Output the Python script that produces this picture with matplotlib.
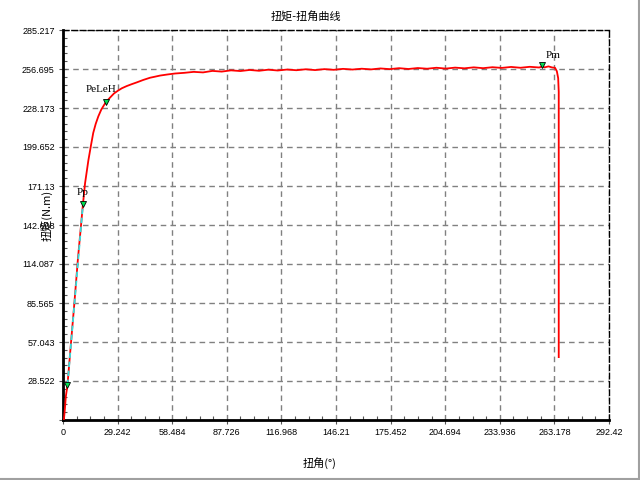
import matplotlib.pyplot as plt
from matplotlib.ticker import AutoMinorLocator

# torque-angle curve
angle = [0.5, 1.0, 1.5, 2.4, 4.0, 6.0, 8.0, 10.7, 11.8, 13.6, 15.0, 16.2, 17.5, 18.9,
         20.5, 22.8, 25.2, 27.3, 29.5, 31.5, 34.1, 36.8, 39.5, 43.0, 46.6, 49.0, 52.0,
         56.0, 60.0, 65.0, 70.0, 75.0, 80.0, 85.0, 90.0, 95.0, 100.0, 105.0, 110.0,
         115.0, 120.0, 125.0, 130.0, 135.0, 140.0, 145.0, 150.0, 155.0, 160.0, 165.0,
         170.0, 175.0, 180.0, 185.0, 190.0, 195.0, 200.0, 205.0, 210.0, 215.0, 220.0,
         225.0, 230.0, 235.0, 240.0, 245.0, 250.0, 255.0, 256.6, 258.0, 260.0, 262.0,
         263.5, 264.5, 265.2, 265.5, 265.5]
torque = [0.5, 8.0, 17.0, 25.6, 52.0, 84.0, 118.0, 158.0, 173.0, 190.0, 201.0, 210.0,
          216.5, 222.0, 227.0, 232.2, 235.8, 238.8, 240.9, 242.6, 244.2, 245.6, 246.9,
          248.7, 250.3, 251.0, 251.9, 252.7, 253.4, 253.9, 254.6, 254.2, 255.3, 254.8,
          255.7, 255.2, 256.0, 255.4, 256.2, 255.6, 256.3, 255.8, 256.5, 255.9, 256.6,
          256.1, 256.8, 256.3, 256.9, 256.4, 257.1, 256.6, 257.3, 256.7, 257.4, 256.9,
          257.6, 257.0, 257.7, 257.2, 257.9, 257.3, 258.0, 257.5, 258.2, 257.6, 258.3,
          257.8, 258.5, 257.9, 258.6, 257.8, 257.6, 255.0, 250.0, 240.0, 46.0]

# characteristic points
pt_names = ['', 'Pp', 'PeLeH', 'Pm']
pt_angle = [2.4, 10.7, 22.8, 256.6]
pt_torque = [25.6, 158.0, 232.2, 259.3]
# label offsets in points
pt_dx = [0, 0, -3.2, 8]
pt_dy = [0, 8, 9.7, 7.5]

x_ticks = [0, 29.242, 58.484, 87.726, 116.968, 146.21, 175.452, 204.694, 233.936, 263.178, 292.42]
x_labels = ['0', '29.242', '58.484', '87.726', '116.968', '146.21', '175.452',
            '204.694', '233.936', '263.178', '292.42']
y_ticks = [0, 28.522, 57.043, 85.565, 114.087, 142.608, 171.13, 199.652, 228.173, 256.695, 285.217]
y_labels = ['', '28.522', '57.043', '85.565', '114.087', '142.608', '171.13',
            '199.652', '228.173', '256.695', '285.217']

plt.rcParams['font.family'] = ['Liberation Sans', 'DejaVu Sans']
cjk = ['Noto Sans CJK SC', 'DejaVu Sans']

fig = plt.figure(figsize=(6.4, 4.8), dpi=100)
ax = fig.add_axes([63 / 640, 1 - 420 / 480, 546 / 640, 390 / 480])

ax.plot(angle, torque, color='red', linewidth=1.3, zorder=3)
# elastic line between the first two points
ax.plot(pt_angle[:2], pt_torque[:2], color='#33dddd', linewidth=1.3,
        linestyle=(0, (3, 2)), zorder=4)
ax.plot(pt_angle, pt_torque, linestyle='none', marker='v', markersize=5,
        markerfacecolor='#00e050', markeredgecolor='black', markeredgewidth=0.6, zorder=5)
for name, xa, ya, dx, dy in zip(pt_names, pt_angle, pt_torque, pt_dx, pt_dy):
    if name:
        ax.annotate(name, (xa, ya), xytext=(dx, dy), textcoords='offset points',
                    ha='center', va='center', fontsize=8, family='Liberation Serif')

ax.set_xlim(x_ticks[0], x_ticks[-1])
ax.set_ylim(y_ticks[0], y_ticks[-1])
ax.set_xticks(x_ticks)
ax.set_xticklabels(x_labels)
ax.set_yticks(y_ticks)
ax.set_yticklabels(y_labels)
ax.xaxis.set_minor_locator(AutoMinorLocator(4))
ax.yaxis.set_minor_locator(AutoMinorLocator(5))
ax.tick_params(which='major', direction='out', length=3, width=0.8, labelsize=6.5,
               pad=3, color='#555555')
ax.tick_params(which='minor', direction='in', length=3, width=0.8, color='#555555')

ax.grid(True, which='major', color='#808080', linestyle=(0, (4, 3)), linewidth=1)
for side in ['left', 'bottom']:
    ax.spines[side].set_linewidth(2)
for side in ['top', 'right']:
    ax.spines[side].set_linewidth(1)
    ax.spines[side].set_linestyle((0, (4, 2)))

fig.text(306 / 640, 1 - 16 / 480, '扭矩-扭角曲线', ha='center', va='center',
         fontsize=8, family=cjk)
fig.text(320 / 640, 1 - 463 / 480, '扭角(°)', ha='center', va='center',
         fontsize=8, family=cjk)
fig.text(47 / 640, 1 - 215 / 480, '扭矩(N.m)', ha='center', va='center',
         rotation=90, fontsize=8, family=cjk)

# window frame edges on the right and bottom
fig.add_artist(plt.Line2D([0, 1], [0.002, 0.002], color='#a0a0a0', linewidth=1.5))
fig.add_artist(plt.Line2D([0.998, 0.998], [0, 1], color='#a0a0a0', linewidth=1.5))

fig.savefig('out.png', dpi=100)
